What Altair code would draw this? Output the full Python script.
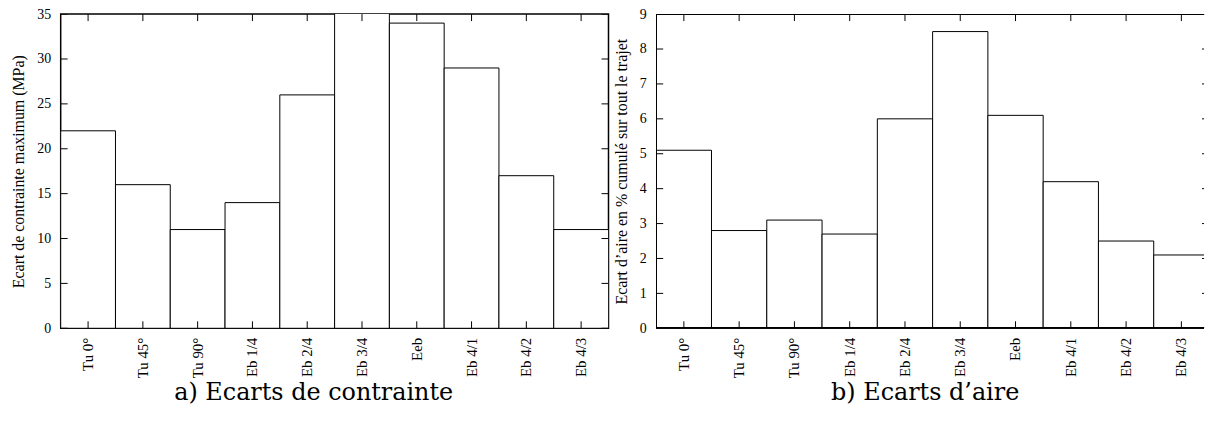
import altair as alt
import pandas as pd

# ---- data ----
categories = ["Tu 0°", "Tu 45°", "Tu 90°", "Eb 1/4", "Eb 2/4", "Eb 3/4", "Eeb", "Eb 4/1", "Eb 4/2", "Eb 4/3"]
ecart_contrainte = [22, 16, 11, 14, 26, 37, 34, 29, 17, 11]
ecart_aire = [5.1, 2.8, 3.1, 2.7, 6.0, 8.5, 6.1, 4.2, 2.5, 2.1]
yticks_a = [0, 5, 10, 15, 20, 25, 30, 35]
yticks_b = [0, 1, 2, 3, 4, 5, 6, 7, 8, 9]

H = 316
TICK = 7
SERIF = "Liberation Serif, Times New Roman, serif"


def panel(values, yticks, ymax, ytitle, caption, width, frame_w, dx, full_frame):
    df = pd.DataFrame({"cat": categories, "val": values})
    tdf = pd.DataFrame({"val": yticks})
    xs = alt.Scale(range=[0, frame_w], paddingInner=0, paddingOuter=0)
    ys = alt.Scale(domain=[0, ymax], nice=False, zero=True)
    xaxis = alt.Axis(title=None, labelAngle=-90, labelFontSize=15, labelPadding=9,
                     labelFont=SERIF, labelColor="black",
                     ticks=False, domain=False, grid=False)
    yaxis = alt.Axis(title=ytitle, values=yticks, labelFontSize=14, labelPadding=10,
                     labelFont=SERIF, labelColor="black",
                     titleFont=SERIF, titleColor="black",
                     titleFontSize=16, titleFontWeight="normal", titlePadding=10,
                     ticks=False, domain=False, grid=False)
    X = alt.X("cat:N", sort=categories, scale=xs, axis=xaxis)
    Y = alt.Y("val:Q", scale=ys, axis=yaxis)

    bars = alt.Chart(df).mark_bar(fill="white", stroke="black", strokeWidth=1, clip=True).encode(
        x=X, y=Y)
    xt_bottom = alt.Chart(df).mark_rule(color="black", strokeWidth=1, clip=True).encode(
        x=X, y=alt.value(H), y2=alt.value(H - TICK))
    xt_top = alt.Chart(df).mark_rule(color="black", strokeWidth=1, clip=True).encode(
        x=X, y=alt.value(0), y2=alt.value(TICK))
    yt_left = alt.Chart(tdf).mark_rule(color="black", strokeWidth=1, clip=True).encode(
        y=Y, x=alt.value(0), x2=alt.value(TICK))
    yt_right = alt.Chart(tdf).mark_rule(color="black", strokeWidth=1, clip=True).encode(
        y=Y, x=alt.value(frame_w - TICK), x2=alt.value(frame_w))
    layers = [bars, xt_bottom, xt_top, yt_left, yt_right]
    if not full_frame:
        # frame drawn by hand: its right side lies past the window edge
        fr = dict(color="black", strokeWidth=1.5, clip=True)
        layers += [
            alt.Chart(tdf).mark_rule(**fr).encode(x=alt.value(0), x2=alt.value(frame_w), y=alt.value(0)),
            alt.Chart(tdf).mark_rule(**fr).encode(x=alt.value(0), x2=alt.value(frame_w), y=alt.value(H)),
            alt.Chart(tdf).mark_rule(**fr).encode(x=alt.value(0), y=alt.value(0), y2=alt.value(H)),
        ]
    props = dict(
        width=width, height=H,
        title=alt.TitleParams(caption, orient="bottom", anchor="middle", offset=3, dx=dx,
                              font="DejaVu Serif", fontSize=24, fontWeight="normal", color="black"),
    )
    if not full_frame:
        props["view"] = alt.ViewBackground(stroke=None)
    return alt.layer(*layers).properties(**props)


left = panel(ecart_contrainte, yticks_a, 35, "Ecart de contrainte maximum (MPa)",
             "a) Ecarts de contrainte", 551, 551, -21, True)
right = panel(ecart_aire, yticks_b, 9, "Ecart d’aire en % cumulé sur tout le trajet",
              "b) Ecarts d’aire", 551, 556, -5, False)

chart = alt.hconcat(left, right, spacing=4).properties(
    padding={"left": 2, "top": -3, "right": 0, "bottom": -3},
    background="white",
).configure_view(
    stroke="black", strokeWidth=1.5
)

chart.save("out.html", embed_options={"renderer": "svg", "actions": False})
